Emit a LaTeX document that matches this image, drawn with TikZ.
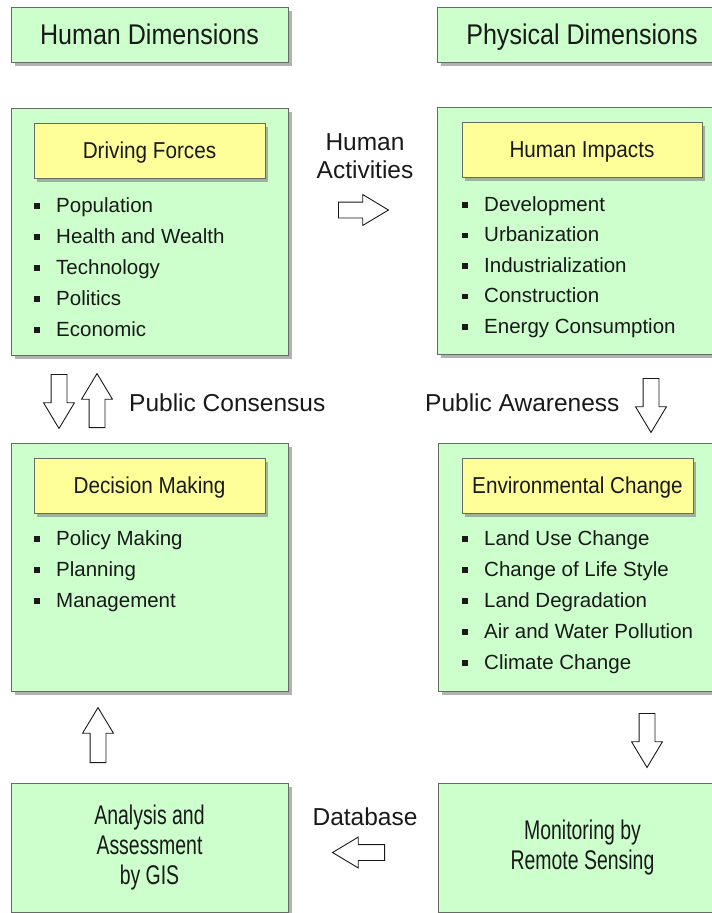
\documentclass[tikz,border=0pt]{standalone}
\usepackage{fontspec}
\setmainfont{Liberation Sans}
\newfontfamily\headfont[FakeStretch=0.88]{Liberation Sans}
\newfontfamily\titlefont[FakeStretch=0.9]{Liberation Sans}
\newfontfamily\narrowfont[FakeStretch=0.72]{Liberation Sans}
\usetikzlibrary{shapes.arrows,shadows,positioning}

\definecolor{panelgreen}{RGB}{204,255,204}
\definecolor{titleyellow}{RGB}{255,255,153}
\definecolor{edgegray}{RGB}{100,108,100}
\definecolor{inkgray}{RGB}{25,25,25}

\newcommand{\sqbullet}{\makebox[22pt][l]{\rule[3.5pt]{5.5pt}{5.5pt}}}

\begin{document}
\begin{tikzpicture}[x=1pt,y=-1pt,
  panel/.style={draw=edgegray, fill=panelgreen, line width=0.8pt, inner sep=0pt, text=inkgray,
    drop shadow={shadow xshift=3.5pt, shadow yshift=-4pt, fill=black!55, opacity=0.55}},
  headbox/.style={panel, minimum height=55pt, text height=20.4pt, text depth=0pt,
    font=\headfont\fontsize{28.5}{32}\selectfont},
  titlebox/.style={draw=edgegray, fill=titleyellow, line width=0.8pt, inner sep=0pt, text=inkgray,
    minimum height=55pt, text height=16.5pt, text depth=0pt, font=\titlefont\fontsize{23}{26}\selectfont,
    drop shadow={shadow xshift=3pt, shadow yshift=-3.5pt, fill=black!55, opacity=0.55}},
  item/.style={anchor=base west, inner sep=0pt, text=inkgray, font=\fontsize{20.5}{24}\selectfont},
  label/.style={inner sep=0pt, text=inkgray, align=center, font=\fontsize{24.5}{28}\selectfont},
  blockarrow/.style={draw=inkgray, fill=white, line width=0.9pt, single arrow, inner sep=7.5pt,
    single arrow head extend=7.5pt, single arrow tip angle=62, minimum width=30pt, anchor=tail}
]

%Dimensions
\def \lwidth{277}
\def \rwidth{290}
\def \twidth{231}

\clip (0,0) rectangle (712,913);

%%% En-tetes %%%
\node[headbox, minimum width=\lwidth] (hdim) at (149.5,34.5) {Human Dimensions};
\node[headbox, minimum width=\rwidth] (pdim) at (582,34.5) {Physical Dimensions};

%%% Forces motrices %%%
\node[panel, minimum width=\lwidth, minimum height=247pt] (drive) at (149.5,231.5) {};
\node[titlebox, minimum width=\twidth] (drivet) at (149.5,150.5) {Driving Forces};
\foreach \txt [count=\i] in {Population, Health and Wealth, Technology, Politics, Economic}
  \node[item] (drive\i) at (34,{212+31*(\i-1)}) {\sqbullet\txt};

%%% Impacts humains %%%
\node[panel, minimum width=\rwidth, minimum height=247pt] (impact) at (582,230.5) {};
\node[titlebox, minimum width=240pt] (impactt) at (582,149.5) {Human Impacts};
\foreach \txt [count=\i] in {Development, Urbanization, Industrialization, Construction, Energy Consumption}
  \node[item] (impact\i) at (462,{211+30.5*(\i-1)}) {\sqbullet\txt};

%%% Decision %%%
\node[panel, minimum width=\lwidth, minimum height=248pt] (decide) at (149.5,567) {};
\node[titlebox, minimum width=\twidth] (decidet) at (149.5,485.5) {Decision Making};
\foreach \txt [count=\i] in {Policy Making, Planning, Management}
  \node[item] (decide\i) at (34,{545+31*(\i-1)}) {\sqbullet\txt};

%%% Changement environnemental %%%
\node[panel, minimum width=289pt, minimum height=248pt] (change) at (582.5,567) {};
\node[titlebox, minimum width=\twidth] (changet) at (577.5,485.5) {Environmental Change};
\foreach \txt [count=\i] in {Land Use Change, Change of Life Style, Land Degradation, Air and Water Pollution, Climate Change}
  \node[item] (change\i) at (462,{545+31*(\i-1)}) {\sqbullet\txt};

%%% Boites du bas %%%
\node[panel, minimum width=\lwidth, minimum height=129pt, align=center, font=\narrowfont\fontsize{27}{30}\selectfont] (gis) at (149.5,847.5) {Analysis and\\Assessment\\by GIS};
\node[panel, minimum width=289pt, minimum height=129pt, align=center, font=\narrowfont\fontsize{27}{30}\selectfont] (sensing) at (582.5,847.5) {Monitoring by\\Remote Sensing};

%Fleches (placees par la queue)
\node[blockarrow, minimum height=50pt] (acts) at (338,210) {};
\node[blockarrow, minimum height=54pt, shape border rotate=270] (consdown) at (59,374) {};
\node[blockarrow, minimum height=54pt, shape border rotate=90] (consup) at (97,428) {};
\node[blockarrow, minimum height=54pt, shape border rotate=270] (aware) at (651,378) {};
\node[blockarrow, minimum height=55pt, shape border rotate=90] (gisup) at (98,763) {};
\node[blockarrow, minimum height=54pt, shape border rotate=270] (sensedown) at (647,713) {};
\node[blockarrow, minimum height=52pt, shape border rotate=180] (dbarrow) at (385,852.5) {};

%Etiquettes
\node[label] (actslabel) at (365,156) {Human\\Activities};
\node[label, anchor=west] (conslabel) at (129,403) {Public Consensus};
\node[label, anchor=west] (awarelabel) at (425,403) {Public Awareness};
\node[label] (dblabel) at (365,817) {Database};

\end{tikzpicture}
\end{document}
